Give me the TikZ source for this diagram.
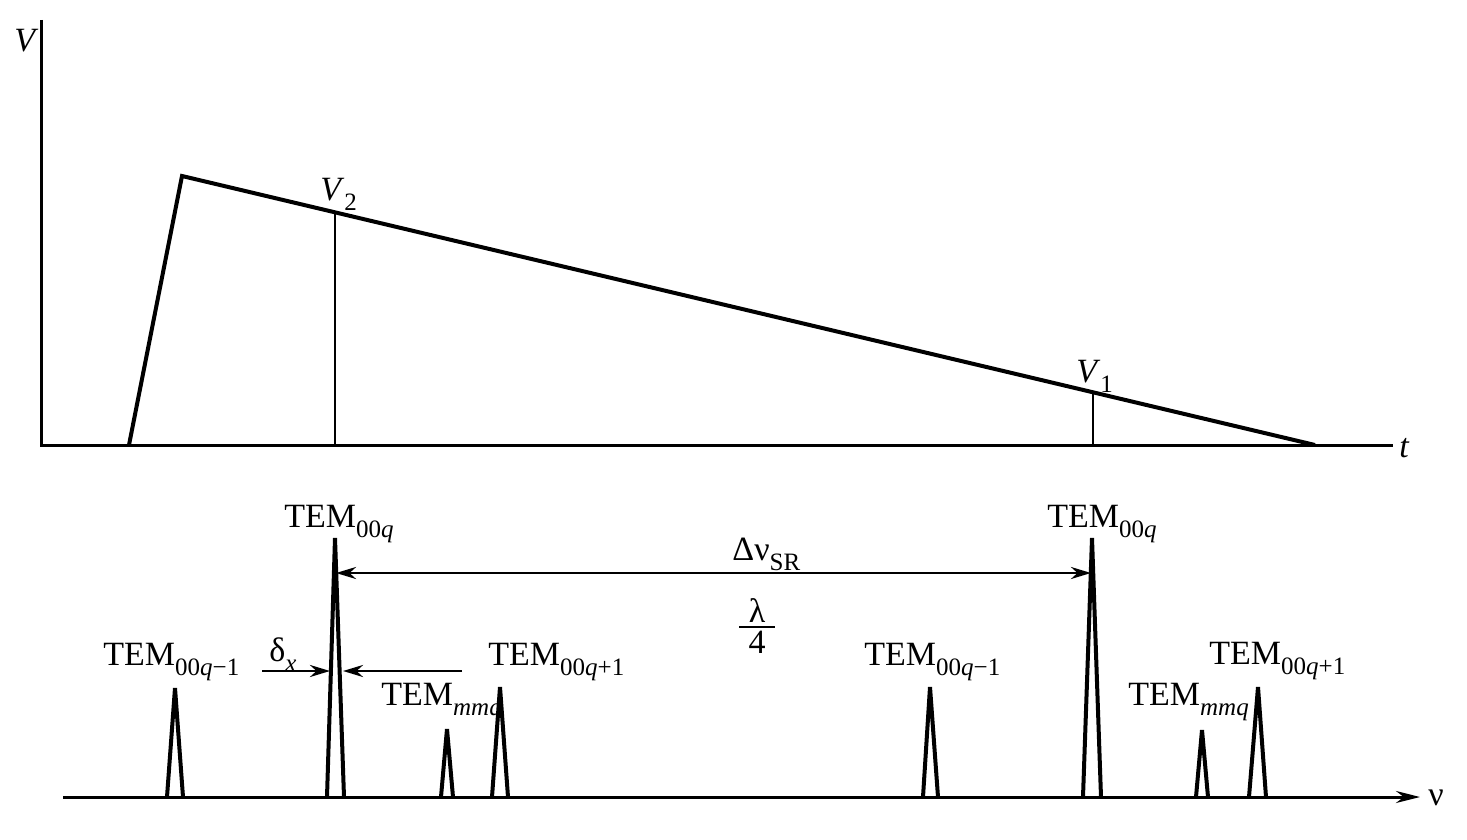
\documentclass[tikz,border=0pt]{standalone}
\usepackage{fontspec}
\setmainfont{Liberation Serif}
\usetikzlibrary{arrows.meta}
\newcommand\mysub[1]{\raisebox{-0.32em}{\fontsize{12.5}{12.5}\selectfont #1}}
\tikzset{
  lbl/.style={inner sep=0pt, anchor=base west, font=\fontsize{17}{17}\selectfont},
  clbl/.style={inner sep=0pt, font=\fontsize{17}{17}\selectfont},
  axis/.style={line width=1.5pt},
  curve/.style={line width=2pt},
  thinv/.style={line width=0.7pt},
  peak/.style={line width=2pt},
  dimarrow/.style={line width=1.4pt, -{Stealth[length=10pt,width=6pt]}},
}
\begin{document}
\begin{tikzpicture}[x=0.5pt,y=-0.5pt]
\useasboundingbox (0,0) rectangle (1467,840);
% top plot
\coordinate (O) at (41,445);
\coordinate (Vtop) at (41,20);
\coordinate (tend) at (1393,445);
\draw[axis] (Vtop) -- (O) -- (tend);
\coordinate (s0) at (129,445);
\coordinate (s1) at (182,176);
\coordinate (s2) at (1315,445);
\draw[curve] (s0) -- (s1) -- (s2);
\coordinate (v2b) at (335,445);
\coordinate (v2t) at (335,212.3);
\coordinate (v1b) at (1093,445);
\coordinate (v1t) at (1093,392.3);
\draw[thinv] (v2b) -- (v2t);
\draw[thinv] (v1b) -- (v1t);
\node[lbl] (lV) at (14,52) {\textit{V}};
\node[lbl] (lt) at (1399,457) {\textit{t}};
\node[lbl] (lV2) at (320,200) {\textit{V}\mysub{2}};
\node[lbl] (lV1) at (1076,382) {\textit{V}\mysub{1}};
% bottom axis
\coordinate (nu0) at (63,797);
\coordinate (nu1) at (1420,797);
\draw[line width=1.5pt, -{Stealth[length=12pt,width=6pt]}] (nu0) -- (nu1);
\node[lbl] (lnu) at (1428,805) {ν};
% peaks
\draw[peak] (167,797) -- (175,688) -- (183,797);
\draw[peak] (327,797) -- (335,538) -- (344,797);
\draw[peak] (441,797) -- (447,729) -- (453,797);
\draw[peak] (492,797) -- (500,687) -- (508,797);
\draw[peak] (923,797) -- (930,687) -- (938,797);
\draw[peak] (1083,797) -- (1092,538) -- (1101,797);
\draw[peak] (1196,797) -- (1202,730) -- (1208,797);
\draw[peak] (1249,797) -- (1258,687) -- (1266,797);
% labels
\node[lbl] (t1) at (284,527) {TEM\mysub{00\textit{q}}};
\node[lbl] (t2) at (1047,527) {TEM\mysub{00\textit{q}}};
\node[lbl] (t3) at (103,665) {TEM\mysub{00\textit{q}−1}};
\node[lbl] (t4) at (864,665) {TEM\mysub{00\textit{q}−1}};
\node[lbl] (t5) at (488,665) {TEM\mysub{00\textit{q}+1}};
\node[lbl] (t6) at (1209,664) {TEM\mysub{00\textit{q}+1}};
\node[lbl] (t7) at (381,705) {TEM\mysub{\textit{mmq}}};
\node[lbl] (t8) at (1128,705) {TEM\mysub{\textit{mmq}}};
\node[lbl] (dx) at (269,661) {δ\mysub{\textit{x}}};
\node[lbl] (dnu) at (732,560) {Δν\mysub{SR}};
\node[clbl, anchor=south] (lam) at (757,623) {λ};
\node[clbl, anchor=north] (four) at (757,631) {4};
\coordinate (fb0) at (739,627);
\coordinate (fb1) at (775,627);
\draw[line width=0.8pt] (fb0) -- (fb1);
% arrows
\coordinate (a0) at (336,573);
\coordinate (a1) at (1091,573);
\draw[line width=1.4pt, {Stealth[length=10pt,width=6pt]}-{Stealth[length=10pt,width=6pt]}] (a0) -- (a1);
\coordinate (dl0) at (262,671);
\coordinate (dl1) at (330,671);
\coordinate (dr0) at (462,671);
\coordinate (dr1) at (343,671);
\draw[dimarrow] (dl0) -- (dl1);
\draw[dimarrow] (dr0) -- (dr1);
\end{tikzpicture}
\end{document}
